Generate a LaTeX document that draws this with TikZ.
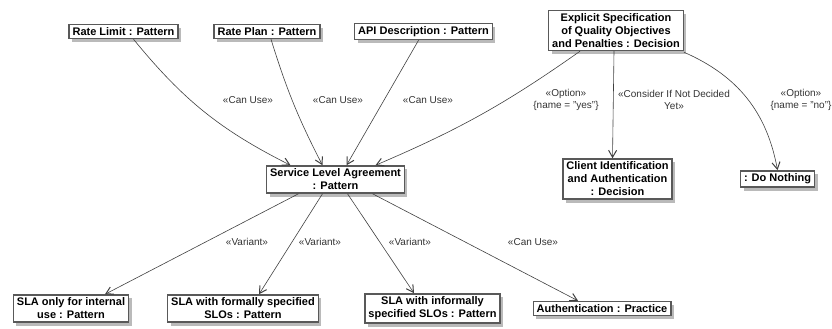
\documentclass[tikz,border=0pt]{standalone}
\usepackage{fontspec}
\setmainfont{Liberation Sans}
\usetikzlibrary{arrows.meta, shadows}
\tikzset{
        x=1pt, y=-1pt, % pixel-like coordinates, y grows downwards
        every edge/.style={draw, line width=0.6pt, draw=black!75, -{Straight Barb[length=7pt, width=8pt, line width=1pt]}},
        box/.style={draw=black!65, line width=1.4pt, fill=white, align=center,
                inner xsep=3.5pt, inner ysep=3pt,
                font=\fontsize{11}{13}\selectfont\bfseries,
                drop shadow={shadow xshift=3pt, shadow yshift=-3.5pt, fill=black!30, opacity=0.9}}, % sets the properties for each box
        lbl/.style={font=\fontsize{10}{12}\selectfont, align=center, text=black!80}, % text on the edges
        }
\begin{document}
\begin{tikzpicture}
        \useasboundingbox (0,0) rectangle (832,329);
        % top row
        \node[box] (RateLimit) at (123.5,31.5) {Rate Limit : Pattern};
        \node[box] (RatePlan) at (267,31.5) {Rate Plan : Pattern};
        \node[box] (APIDesc) at (423.5,31.5) {API Description : Pattern};
        \node[box] (ExplicitSpec) at (616,30.5) {Explicit Specification\\of Quality Objectives\\and Penalties : Decision};
        % middle row
        \node[box] (SLA) at (335.5,179.5) {Service Level Agreement\\: Pattern};
        \node[box] (ClientId) at (617.5,179) {Client Identification\\and Authentication\\: Decision};
        \node[box] (DoNothing) at (777.5,179) {: Do Nothing};
        % bottom row
        \node[box] (SLAInternal) at (71,308.5) {SLA only for internal\\use : Pattern};
        \node[box] (SLAFormal) at (243,308.5) {SLA with formally specified\\SLOs : Pattern};
        \node[box] (SLAInformal) at (432.5,308.5) {SLA with informally\\specified SLOs : Pattern};
        \node[box] (Authentication) at (602,308.5) {Authentication : Practice};

        \draw (RateLimit.south) ++(10,0) edge[bend right=12] ([xshift=-45pt]SLA.north);
        \draw (RatePlan.south) ++(4,0) edge[bend right=5] ([xshift=-13pt]SLA.north);
        \draw ([xshift=-5pt]APIDesc.south) edge ([xshift=11pt]SLA.north);
        \draw ([xshift=-36pt]ExplicitSpec.south) edge[bend left=6] ([xshift=40pt]SLA.north);
        \draw ([xshift=-2pt]ExplicitSpec.south) edge ([xshift=-5pt]ClientId.north);
        \draw (ExplicitSpec.south east) ++(0,1) edge[bend left=28] (DoNothing.north);

        \draw ([xshift=-37pt]SLA.south) edge (SLAInternal.north -| 105,0);
        \draw ([xshift=-13pt]SLA.south) edge (SLAFormal.north -| 259,0);
        \draw ([xshift=12pt]SLA.south) edge (SLAInformal.north -| 414,0);
        \draw ([xshift=37pt]SLA.south) edge (Authentication.north -| 578,0);

        % edge labels
        \node[lbl] (lCanUse1) at (248,100) {«Can Use»};
        \node[lbl] (lCanUse2) at (338,100) {«Can Use»};
        \node[lbl] (lCanUse3) at (428,100) {«Can Use»};
        \node[lbl] (lYes) at (566,100) {«Option»\\\{name = "yes"\}};
        \node[lbl] (lConsider) at (674,100) {«Consider If Not Decided\\Yet»};
        \node[lbl] (lNo) at (801,100) {«Option»\\\{name = "no"\}};
        \node[lbl] (lVariant1) at (247,242) {«Variant»};
        \node[lbl] (lVariant2) at (320,242) {«Variant»};
        \node[lbl] (lVariant3) at (410,242) {«Variant»};
        \node[lbl] (lCanUse4) at (533,242) {«Can Use»};
\end{tikzpicture}
\end{document}
